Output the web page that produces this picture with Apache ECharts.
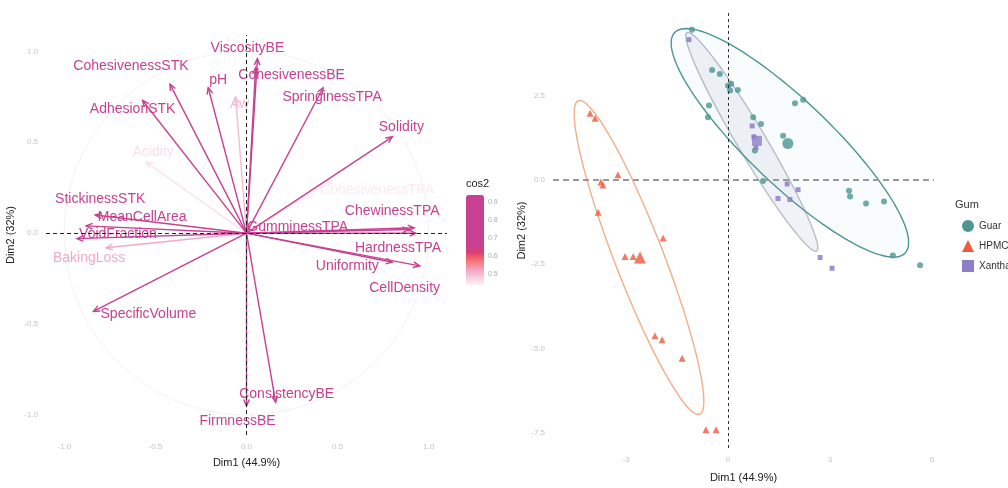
<!DOCTYPE html>
<html>
<head>
<meta charset="utf-8">
<script src="https://cdn.jsdelivr.net/npm/echarts@6/dist/echarts.min.js"></script>
<style>
html, body { margin: 0; background: #fff; }
#chart { width: 1008px; height: 488px; }
</style>
</head>
<body>
<div id="chart"></div>
<script>
// variables plot (correlation circle)
const varNames = ['CohesivenessTPA', 'Acidity', 'Aw', 'BakingLoss', 'ViscosityBE', 'CohesivenessBE', 'pH',
  'CohesivenessSTK', 'AdhesionSTK', 'SpringinessTPA', 'Solidity', 'StickinessSTK', 'MeanCellArea',
  'VoidFraction', 'SpecificVolume', 'ConsistencyBE', 'FirmnessBE', 'GumminessTPA', 'ChewinessTPA',
  'HardnessTPA', 'Uniformity', 'CellDensity'];
const varDim1 = [0.47, -0.55, -0.06, -0.77, 0.06, 0.05, -0.21, -0.42, -0.57, 0.42, 0.80, -0.83, -0.88,
  -0.93, -0.84, 0.16, 0.00, 0.89, 0.92, 0.93, 0.80, 0.95];
const varDim2 = [0.29, 0.39, 0.75, -0.08, 0.96, 0.91, 0.80, 0.82, 0.73, 0.80, 0.53, 0.10, 0.04,
  -0.03, -0.43, -0.93, -0.95, 0.02, 0.03, 0.00, -0.16, -0.18];
const varCos2 = [0.45, 0.46, 0.50, 0.52, 0.93, 0.83, 0.68, 0.84, 0.86, 0.81, 0.92, 0.70, 0.77,
  0.87, 0.90, 0.90, 0.89, 0.80, 0.85, 0.86, 0.67, 0.94];
const corTicks = [-1, -0.5, 0, 0.5, 1];
const cos2Ticks = [0.5, 0.6, 0.7, 0.8, 0.9];

// individuals plot
const guarDim1 = [-1.06, -0.47, -0.24, 0.00, 0.09, 0.29, 0.06, -0.56, -0.59, 0.74, 0.97, 0.79, 1.03,
  2.21, 1.97, 1.62, 3.56, 3.59, 4.06, 4.59, 4.85, 5.65];
const guarDim2 = [4.45, 3.26, 3.14, 2.79, 2.85, 2.67, 2.65, 2.21, 1.86, 1.86, 1.66, 0.87, -0.03,
  2.38, 2.27, 1.31, -0.32, -0.49, -0.70, -0.64, -2.24, -2.53];
const hpmcDim1 = [-4.06, -3.91, -3.24, -3.74, -3.68, -3.82, -1.91, -3.03, -2.79, -2.15, -1.94, -1.35, -0.65, -0.35];
const hpmcDim2 = [1.98, 1.83, 0.15, -0.06, -0.15, -0.96, -1.72, -2.27, -2.27, -4.62, -4.74, -5.29, -7.41, -7.41];
const xanthanDim1 = [-1.15, 0.71, 0.76, 0.82, 1.74, 2.06, 1.47, 1.82, 2.71, 3.06];
const xanthanDim2 = [4.16, 1.60, 1.28, 0.96, -0.12, -0.29, -0.55, -0.58, -2.30, -2.62];
const guarMean = [1.76, 1.08];
const hpmcMean = [-2.59, -2.30];
const xanthanMean = [0.85, 1.16];
// ellipses: centre x, centre y, semi-major, semi-minor, angle (deg)
const guarEllipse = [1.82, 1.10, 4.71, 1.23, -44];
const hpmcEllipse = [-2.62, -2.30, 4.98, 0.72, 111];
const xanthanEllipse = [0.70, 1.13, 3.76, 0.42, -59.5];
const dim1Ticks = [-3, 0, 3, 6];
const dim2Ticks = [-7.5, -5, -2.5, 0, 2.5];

const FONT = '"Liberation Sans", Arial, sans-serif';
const TEAL = '#4B9593', ORANGE = '#EE5A40', PURPLE = '#8F7EC8';

// where each label sits relative to its arrow tip (px)
const labelOffset = {
  ViscosityBE: [-10, -10], CohesivenessBE: [36, 7], pH: [10, -8], Aw: [4, 7],
  CohesivenessSTK: [-39, -18], AdhesionSTK: [-10, 9], SpringinessTPA: [9, 9], Solidity: [9, -10],
  Acidity: [7, -10], CohesivenessTPA: [45, 10], StickinessSTK: [5, -16], MeanCellArea: [56, -9],
  VoidFraction: [41, -4], BakingLoss: [-17, 10], SpecificVolume: [55, 3], ConsistencyBE: [11, -8],
  FirmnessBE: [-9, 15], ChewinessTPA: [-22, -17], GumminessTPA: [-111, -2], HardnessTPA: [-18, 15],
  Uniformity: [-45, 4], CellDensity: [-15, 22]
};

// cos2 gradient
const cosMin = 0.44, cosMax = 0.945;
const anchors = [[0.44, [255, 242, 244]], [0.52, [240, 170, 200]], [0.58, [246, 112, 110]],
  [0.62, [222, 64, 112]], [0.66, [199, 64, 146]], [0.95, [199, 64, 146]]];
function colorAt(v) {
  for (let i = 1; i < anchors.length; i++) {
    if (v <= anchors[i][0]) {
      const a = anchors[i - 1], b = anchors[i];
      const t = Math.max(0, (v - a[0]) / (b[0] - a[0]));
      const c = a[1].map((x, k) => Math.round(x + (b[1][k] - x) * t));
      return 'rgb(' + c.join(',') + ')';
    }
  }
  return 'rgb(199,64,146)';
}
const gradStops = [];
for (let i = 0; i <= 50; i++) gradStops.push(colorAt(cosMin + (cosMax - cosMin) * i / 50));

function renderArrow(params, api) {
  const o = api.coord([0, 0]);
  const t = api.coord([api.value(0), api.value(1)]);
  const color = api.visual('color');
  const ang = Math.atan2(t[1] - o[1], t[0] - o[0]);
  const hl = 7, hw = 0.42;
  const p1 = [t[0] - hl * Math.cos(ang - hw), t[1] - hl * Math.sin(ang - hw)];
  const p2 = [t[0] - hl * Math.cos(ang + hw), t[1] - hl * Math.sin(ang + hw)];
  const name = varNames[params.dataIndex];
  const off = labelOffset[name] || [0, -10];
  return {
    type: 'group',
    children: [
      { type: 'line', shape: { x1: o[0], y1: o[1], x2: t[0], y2: t[1] }, style: { stroke: color, lineWidth: 1.4 } },
      { type: 'polyline', shape: { points: [p1, t, p2] }, style: { stroke: color, lineWidth: 1.4, fill: null } },
      { type: 'text', x: t[0] + off[0], y: t[1] + off[1],
        style: { text: name, fill: color, font: '14px ' + FONT, align: 'center', verticalAlign: 'middle' } }
    ]
  };
}

function ellipseRenderer(stroke, fill) {
  return function (params, api) {
    const cx = api.value(0), cy = api.value(1), a = api.value(2), b = api.value(3);
    const th = api.value(4) * Math.PI / 180;
    const pts = [];
    for (let i = 0; i < 120; i++) {
      const s = i / 120 * Math.PI * 2;
      const x = cx + a * Math.cos(s) * Math.cos(th) - b * Math.sin(s) * Math.sin(th);
      const y = cy + a * Math.cos(s) * Math.sin(th) + b * Math.sin(s) * Math.cos(th);
      pts.push(api.coord([x, y]));
    }
    return { type: 'polygon', shape: { points: pts }, style: { fill: fill, stroke: stroke, lineWidth: 1.4 } };
  };
}

function renderCircle(params, api) {
  const pts = [];
  for (let i = 0; i < 120; i++) {
    const s = i / 120 * Math.PI * 2;
    pts.push(api.coord([Math.cos(s), Math.sin(s)]));
  }
  return { type: 'polygon', shape: { points: pts }, style: { fill: null, stroke: '#f1f1f1', lineWidth: 1 } };
}

const zip = (a, b) => a.map((v, i) => [v, b[i]]);
const tickLabel = (vals, fmt) => ({ customValues: vals, formatter: fmt, color: '#c4c4c4', fontSize: 8, fontFamily: FONT });
const axisName = { color: '#222', fontSize: 11, fontFamily: FONT };
const noLine = { show: false };

const chart = echarts.init(document.getElementById('chart'));

const cos2Labels = cos2Ticks.map(v => ({
  type: 'text', left: 488, top: 195 + (cosMax - v) / (cosMax - cosMin) * 90 - 4,
  style: { text: v.toFixed(1), fill: '#aaa', font: '7px ' + FONT }
}));

const option = {
  animation: false,
  title: { text: 'Gum', left: 955, top: 199, textStyle: { fontSize: 11, fontWeight: 'normal', color: '#333', fontFamily: FONT }, padding: 0 },
  legend: {
    orient: 'vertical', left: 957, top: 215, itemGap: 8, itemWidth: 12, itemHeight: 12,
    textStyle: { fontSize: 10, color: '#333', fontFamily: FONT },
    data: [{ name: 'Guar', icon: 'circle' }, { name: 'HPMC', icon: 'triangle' }, { name: 'Xanthan', icon: 'rect' }]
  },
  visualMap: {
    type: 'continuous', seriesIndex: 1, dimension: 2, min: cosMin, max: cosMax,
    calculable: false, left: 466, top: 195, itemWidth: 18, itemHeight: 90, padding: 0,
    inRange: { color: gradStops }
  },
  graphic: [
    { type: 'text', left: 466, top: 178, style: { text: 'cos2', fill: '#222', font: '11px ' + FONT } }
  ].concat(cos2Labels),
  grid: [
    { left: 46, top: 35, width: 401, height: 400 },
    { left: 553, top: 13, width: 381, height: 444 }
  ],
  xAxis: [
    { type: 'value', gridIndex: 0, min: -1.1, max: 1.1, axisLine: noLine, axisTick: noLine, splitLine: noLine,
      axisLabel: tickLabel(corTicks, v => v.toFixed(1)), name: 'Dim1 (44.9%)', nameLocation: 'middle', nameGap: 22, nameTextStyle: axisName },
    { type: 'value', gridIndex: 1, min: -5.15, max: 6.06, axisLine: noLine, axisTick: noLine, splitLine: noLine,
      axisLabel: tickLabel(dim1Ticks, v => String(v)), name: 'Dim1 (44.9%)', nameLocation: 'middle', nameGap: 24, nameTextStyle: axisName }
  ],
  yAxis: [
    { type: 'value', gridIndex: 0, min: -1.11, max: 1.09, axisLine: noLine, axisTick: noLine, splitLine: noLine,
      axisLabel: tickLabel(corTicks, v => v.toFixed(1)), name: 'Dim2 (32%)', nameLocation: 'middle', nameGap: 30, nameTextStyle: axisName },
    { type: 'value', gridIndex: 1, min: -7.95, max: 4.95, axisLine: noLine, axisTick: noLine, splitLine: noLine,
      axisLabel: tickLabel(dim2Ticks, v => v.toFixed(1)), name: 'Dim2 (32%)', nameLocation: 'middle', nameGap: 26, nameTextStyle: axisName }
  ],
  series: [
    {
      type: 'custom', xAxisIndex: 0, yAxisIndex: 0, silent: true, z: 1,
      renderItem: renderCircle, data: [[0, 0]],
      markLine: {
        silent: true, symbol: 'none', label: { show: false },
        lineStyle: { color: '#222', type: [4, 3], width: 1 },
        data: [{ xAxis: 0 }, { yAxis: 0 }]
      }
    },
    {
      type: 'custom', xAxisIndex: 0, yAxisIndex: 0, silent: true, z: 3,
      renderItem: renderArrow,
      data: varNames.map((n, i) => [varDim1[i], varDim2[i], varCos2[i]])
    },
    { name: 'Xanthan', type: 'custom', xAxisIndex: 1, yAxisIndex: 1, silent: true, z: 1, itemStyle: { color: PURPLE },
      renderItem: ellipseRenderer('#B9BDCB', 'rgba(170,176,205,0.16)'), data: [xanthanEllipse] },
    { name: 'Guar', type: 'custom', xAxisIndex: 1, yAxisIndex: 1, silent: true, z: 1, itemStyle: { color: TEAL },
      renderItem: ellipseRenderer(TEAL, 'rgba(75,149,147,0.03)'), data: [guarEllipse] },
    { name: 'HPMC', type: 'custom', xAxisIndex: 1, yAxisIndex: 1, silent: true, z: 1, itemStyle: { color: ORANGE },
      renderItem: ellipseRenderer('#F2AE88', null), data: [hpmcEllipse] },
    {
      name: 'Guar', type: 'scatter', xAxisIndex: 1, yAxisIndex: 1, symbol: 'circle', symbolSize: 6, z: 4,
      itemStyle: { color: TEAL }, data: zip(guarDim1, guarDim2),
      markLine: {
        silent: true, symbol: 'none', label: { show: false },
        data: [
          { xAxis: 0, lineStyle: { color: '#333', type: [3, 3], width: 1 } },
          { yAxis: 0, lineStyle: { color: '#999', type: [6, 4], width: 2 } }
        ]
      }
    },
    { name: 'Guar', type: 'scatter', xAxisIndex: 1, yAxisIndex: 1, symbol: 'circle', symbolSize: 11, z: 4,
      itemStyle: { color: TEAL }, data: [guarMean] },
    { name: 'HPMC', type: 'scatter', xAxisIndex: 1, yAxisIndex: 1, symbol: 'triangle', symbolSize: 7, z: 4,
      itemStyle: { color: ORANGE }, data: zip(hpmcDim1, hpmcDim2) },
    { name: 'HPMC', type: 'scatter', xAxisIndex: 1, yAxisIndex: 1, symbol: 'triangle', symbolSize: 12, z: 4,
      itemStyle: { color: ORANGE }, data: [hpmcMean] },
    { name: 'Xanthan', type: 'scatter', xAxisIndex: 1, yAxisIndex: 1, symbol: 'rect', symbolSize: 5, z: 4,
      itemStyle: { color: PURPLE, opacity: 0.85 }, data: zip(xanthanDim1, xanthanDim2) },
    { name: 'Xanthan', type: 'scatter', xAxisIndex: 1, yAxisIndex: 1, symbol: 'rect', symbolSize: 10, z: 4,
      itemStyle: { color: PURPLE, opacity: 0.8 }, data: [xanthanMean] }
  ]
};
chart.setOption(option);
</script>
</body>
</html>
